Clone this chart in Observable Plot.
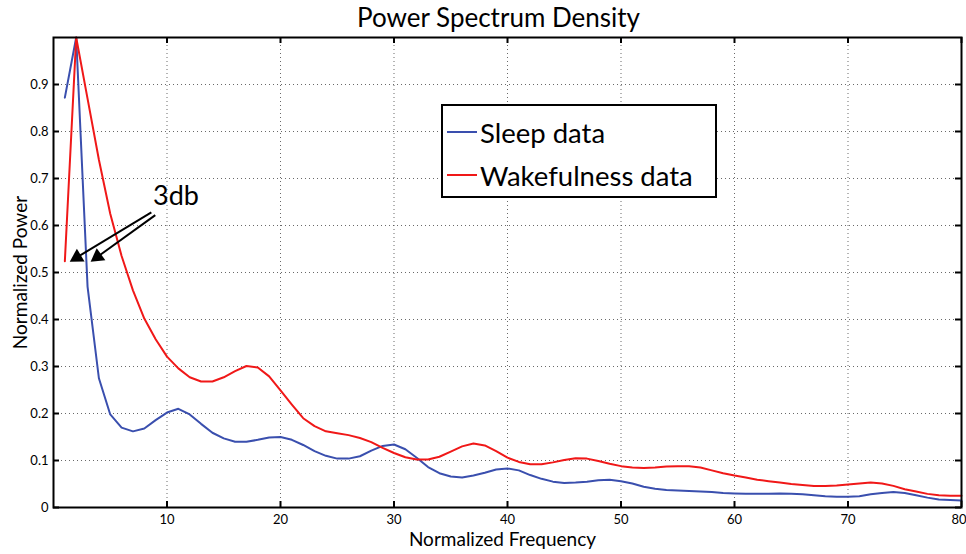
<!DOCTYPE html>
<html>
<head>
<meta charset="utf-8">
<script src="https://cdn.jsdelivr.net/npm/d3@7"></script>
<script src="https://cdn.jsdelivr.net/npm/@observablehq/plot@0.6"></script>
<style>
  html, body { margin: 0; padding: 0; background: #fff; }
  #wrap { position: relative; width: 966px; height: 554px; font-family: Lato, "Open Sans", sans-serif; }
  #legend { position: absolute; left: 441px; top: 104px; width: 272px; height: 90px; border: 2px solid #000; background: #fff; }
  .li { position: absolute; left: 0; height: 30px; display: flex; align-items: center; font-size: 27.5px; color: #000; white-space: nowrap; }
  .li .sw { display: inline-block; width: 30px; height: 0; border-top: 2px solid; margin-left: 4px; margin-right: 3px; }
</style>
</head>
<body>
<div id="wrap"></div>
<script>
// ---- data ----
const freq = [1,2,3,4,5,6,7,8,9,10,11,12,13,14,15,16,17,18,19,20,21,22,23,24,25,26,27,28,29,30,31,32,33,34,35,36,37,38,39,40,41,42,43,44,45,46,47,48,49,50,51,52,53,54,55,56,57,58,59,60,61,62,63,64,65,66,67,68,69,70,71,72,73,74,75,76,77,78,79,80];
const sleep = [0.872,1.0,0.47,0.275,0.198,0.17,0.162,0.168,0.186,0.202,0.21,0.198,0.178,0.159,0.147,0.14,0.14,0.144,0.149,0.15,0.144,0.133,0.12,0.11,0.104,0.104,0.109,0.121,0.131,0.134,0.124,0.106,0.086,0.073,0.066,0.064,0.068,0.074,0.081,0.083,0.079,0.069,0.061,0.055,0.052,0.053,0.055,0.058,0.059,0.056,0.051,0.044,0.040,0.037,0.036,0.035,0.034,0.033,0.031,0.030,0.029,0.029,0.029,0.030,0.029,0.028,0.026,0.024,0.023,0.023,0.024,0.028,0.031,0.033,0.031,0.026,0.021,0.017,0.016,0.015];
const wake = [0.524,1.0,0.87,0.74,0.625,0.535,0.462,0.402,0.358,0.321,0.296,0.277,0.268,0.268,0.277,0.29,0.301,0.298,0.279,0.249,0.219,0.19,0.173,0.162,0.158,0.154,0.148,0.139,0.127,0.116,0.107,0.102,0.102,0.108,0.119,0.13,0.136,0.132,0.12,0.106,0.097,0.092,0.092,0.096,0.101,0.105,0.104,0.099,0.093,0.088,0.085,0.084,0.085,0.087,0.088,0.088,0.085,0.079,0.073,0.068,0.064,0.059,0.056,0.053,0.05,0.048,0.046,0.046,0.047,0.049,0.051,0.053,0.051,0.046,0.039,0.034,0.029,0.026,0.025,0.025];
const seriesNames = ["Sleep data", "Wakefulness data"];
const seriesColors = ["#3a4fae", "#f01818"];
const xTicks = [10,20,30,40,50,60,70,80];
const yTicks = [0,0.1,0.2,0.3,0.4,0.5,0.6,0.7,0.8,0.9];
const titleText = ["Power Spectrum Density"];
const xLabel = ["Normalized Frequency"];
const yLabel = ["Normalized Power"];
// annotation (data units)
const noteText = ["3db"];
const noteX = [8.77];
const noteY = [0.663];
const arrowX1 = [8.62, 8.97];
const arrowY1 = [0.628, 0.622];
const arrowX2 = [1.43, 3.27];
const arrowY2 = [0.523, 0.523];

// ---- build ----
const W = 966, H = 554, mT = 37, mB = 47, mL = 53, mR = 5;
const innerH = H - mT - mB, innerW = W - mL - mR;
const tickLen = 6;
const xDomain = [0, 80], yDomain = [0, 1];
const pxX = innerW / (xDomain[1] - xDomain[0]);
const pxY = innerH / (yDomain[1] - yDomain[0]);
const headR = 5.5;
const headTip = 2 * Math.sqrt((Math.PI * headR * headR) / (3 * Math.sqrt(3)));

const sleepData = freq.map((f, i) => ({f, v: sleep[i]}));
const wakeData = freq.map((f, i) => ({f, v: wake[i]}));
const arrows = arrowX1.map((x, i) => {
  const x1 = x, y1 = arrowY1[i], x2 = arrowX2[i], y2 = arrowY2[i];
  const dxp = (x2 - x1) * pxX, dyp = -(y2 - y1) * pxY;
  const len = Math.hypot(dxp, dyp);
  const ux = dxp / len, uy = dyp / len;
  return {
    x1, y1, x2, y2,
    hx: x2 - headTip * ux / pxX,
    hy: y2 + headTip * uy / pxY,
    rot: Math.atan2(ux, -uy) * 180 / Math.PI
  };
});
const notes = noteText.map((t, i) => ({t, x: noteX[i], y: noteY[i]}));

const chart = Plot.plot({
  width: W, height: H,
  marginTop: mT, marginBottom: mB, marginLeft: mL, marginRight: mR,
  style: {fontFamily: "Lato, 'Open Sans', sans-serif", fontSize: "13px", color: "#000", background: "#fff"},
  x: {domain: xDomain},
  y: {domain: yDomain},
  marks: [
    Plot.gridX(xTicks.filter(d => d < 80), {stroke: "#444", strokeOpacity: 0.8, strokeWidth: 1, strokeDasharray: "1,3"}),
    Plot.gridY(yTicks.filter(d => d > 0), {stroke: "#444", strokeOpacity: 0.8, strokeWidth: 1, strokeDasharray: "1,3"}),
    Plot.line(sleepData, {x: "f", y: "v", stroke: seriesColors[0], strokeWidth: 2}),
    Plot.line(wakeData, {x: "f", y: "v", stroke: seriesColors[1], strokeWidth: 2}),
    Plot.frame({stroke: "#000", strokeWidth: 2}),
    // inward ticks (bottom, top, left, right)
    Plot.tickX(xTicks, {x: d => d, insetTop: innerH - tickLen, stroke: "#000", strokeWidth: 2}),
    Plot.tickX(xTicks, {x: d => d, insetBottom: innerH - tickLen, stroke: "#000", strokeWidth: 2}),
    Plot.tickY(yTicks, {y: d => d, insetRight: innerW - tickLen, stroke: "#000", strokeWidth: 2}),
    Plot.tickY(yTicks, {y: d => d, insetLeft: innerW - tickLen, stroke: "#000", strokeWidth: 2}),
    Plot.axisX({ticks: xTicks.filter(d => d < 80), tickSize: 0, tickPadding: 7, label: null, fontSize: 13}),
    Plot.axisX({ticks: xTicks.filter(d => d >= 80), tickSize: 0, tickPadding: 7, label: null, fontSize: 13, textAnchor: "end", dx: 5}),
    Plot.axisY({ticks: yTicks, tickSize: 0, tickPadding: 5, label: null, fontSize: 13, tickFormat: d => d === 0 ? "0" : d3.format(".1f")(d)}),
    // annotation arrows: shaft + filled head
    Plot.link(arrows, {x1: "x1", y1: "y1", x2: "hx", y2: "hy", stroke: "#000", strokeWidth: 2}),
    Plot.dot(arrows, {x: "hx", y: "hy", symbol: "triangle", r: headR, rotate: "rot", fill: "#000", stroke: "none"}),
    Plot.text(notes, {x: "x", y: "y", text: "t", textAnchor: "start", lineAnchor: "middle", fontSize: 27, fill: "#000"}),
    Plot.text(titleText, {frameAnchor: "top", textAnchor: "middle", lineAnchor: "middle", dx: -9, dy: -19, fontSize: 26, fill: "#000"}),
    Plot.text(xLabel, {frameAnchor: "bottom", textAnchor: "middle", lineAnchor: "middle", dx: -5, dy: 32, fontSize: 19, fill: "#000"}),
    Plot.text(yLabel, {frameAnchor: "left", textAnchor: "middle", lineAnchor: "middle", dx: -33, rotate: -90, fontSize: 19, fill: "#000"})
  ]
});

const wrap = document.getElementById("wrap");
wrap.appendChild(chart);

const legend = document.createElement("div");
legend.id = "legend";
seriesNames.forEach((name, i) => {
  const row = document.createElement("div");
  row.className = "li";
  row.style.top = (i === 0 ? 11 : 54) + "px";
  const sw = document.createElement("span");
  sw.className = "sw";
  sw.style.borderTopColor = seriesColors[i];
  const tx = document.createElement("span");
  tx.textContent = name;
  row.appendChild(sw);
  row.appendChild(tx);
  legend.appendChild(row);
});
wrap.appendChild(legend);
</script>
</body>
</html>
